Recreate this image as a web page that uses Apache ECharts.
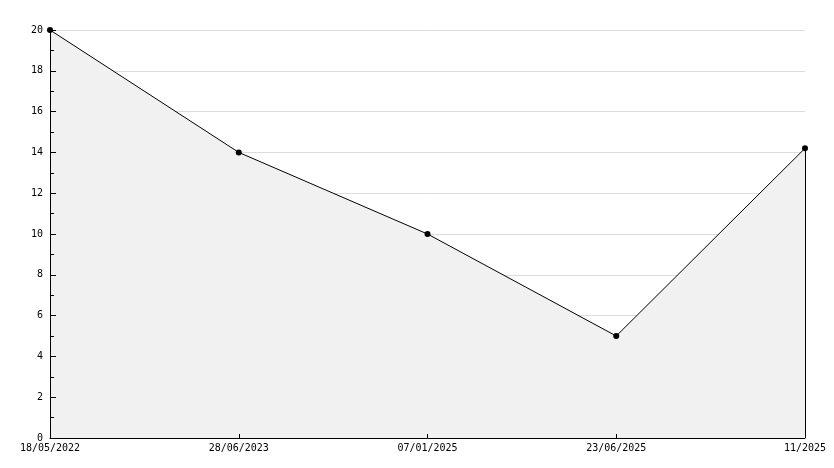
<!DOCTYPE html>
<html><head><meta charset="utf-8">
<script src="https://cdn.jsdelivr.net/npm/echarts@6/dist/echarts.min.js"></script>
<style>html,body{margin:0;padding:0;background:#fff}#c{width:834px;height:468px}</style>
</head><body><div id="c"></div>
<script>
const categories = ['18/05/2022', '28/06/2023', '07/01/2025', '23/06/2025', '11/2025'];
const values = [20, 14, 10, 5, 14.2];
const yTicks = { min: 0, max: 20, interval: 2 };

const chart = echarts.init(document.getElementById('c'));
const lastCat = categories[categories.length - 1];
const lastVal = values[values.length - 1];
const font = { color: '#000', fontFamily: 'DejaVu Sans Mono', fontSize: 10 };
chart.setOption({
  animation: false,
  grid: { left: 50, right: 29, top: 30, bottom: 30 },
  xAxis: [{
    type: 'category', data: categories, boundaryGap: false,
    axisLine: { show: false },
    axisTick: { show: false },
    axisLabel: Object.assign({ margin: 5 }, font),
    splitLine: { show: false }
  }, {
    type: 'category', data: categories, boundaryGap: false, position: 'bottom', z: 5,
    axisLine: { show: true, lineStyle: { color: '#000', width: 1 } },
    axisTick: { show: true, inside: true, length: 4, lineStyle: { color: '#000' } },
    axisLabel: { show: false },
    splitLine: { show: false }
  }],
  yAxis: [{
    type: 'value', min: yTicks.min, max: yTicks.max, interval: yTicks.interval,
    axisLine: { show: false },
    axisTick: { show: false },
    axisLabel: Object.assign({ margin: 7 }, font),
    splitLine: { show: true, lineStyle: { color: '#dcdcdc', width: 1 } }
  }, {
    type: 'value', min: yTicks.min, max: yTicks.max, interval: yTicks.interval, position: 'left', z: 5,
    axisLine: { show: true, lineStyle: { color: '#000', width: 1 } },
    axisTick: { show: true, inside: true, length: 6, lineStyle: { color: '#000' } },
    minorTick: { show: true, splitNumber: 2, length: 4, lineStyle: { color: '#000' } },
    axisLabel: { show: false },
    splitLine: { show: false }
  }],
  series: [{
    type: 'line', data: values, xAxisIndex: 0, yAxisIndex: 0,
    symbol: 'circle', symbolSize: 6,
    itemStyle: { color: '#000' },
    lineStyle: { color: '#000', width: 1 },
    areaStyle: { color: '#f1f1f1', opacity: 1 },
    markLine: {
      silent: true, symbol: 'none', label: { show: false },
      lineStyle: { color: '#000', width: 1, type: 'solid' },
      data: [[{ coord: [lastCat, 0] }, { coord: [lastCat, lastVal] }]]
    }
  }]
});
</script></body></html>
